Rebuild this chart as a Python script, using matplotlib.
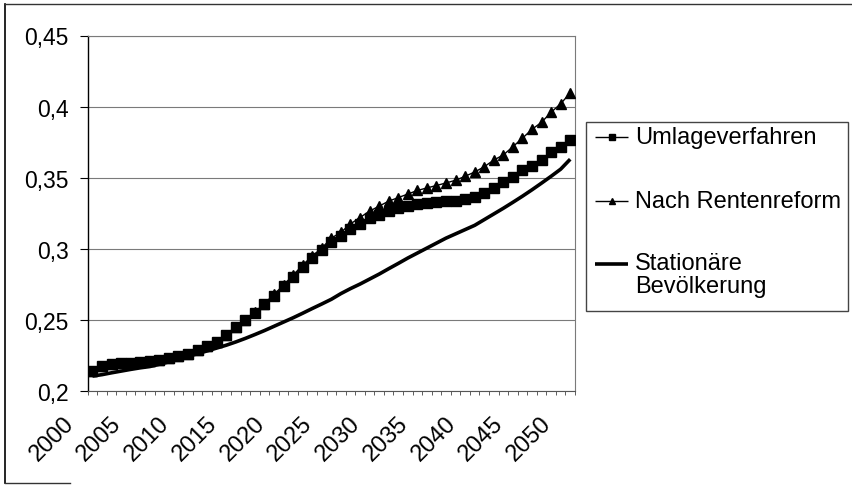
import matplotlib
matplotlib.use('Agg')
import matplotlib.pyplot as plt
from matplotlib.lines import Line2D
from matplotlib.patches import Rectangle
from matplotlib.transforms import ScaledTranslation
import numpy as np

years = list(range(2000, 2051))

umlage = [0.2142, 0.2178, 0.2188, 0.2195, 0.2200, 0.2205, 0.2210, 0.2220, 0.2232, 0.2245,
          0.2262, 0.2288, 0.2314, 0.2345, 0.2397, 0.2450, 0.2496, 0.2550, 0.2610, 0.2670,
          0.2735, 0.2805, 0.2875, 0.2935, 0.2990, 0.3045, 0.3093, 0.3140, 0.3175, 0.3215,
          0.3240, 0.3268, 0.3287, 0.3298, 0.3312, 0.3322, 0.3330, 0.3333, 0.3338, 0.3348,
          0.3365, 0.3392, 0.3427, 0.3470, 0.3505, 0.3553, 0.3584, 0.3624, 0.3678, 0.3718,
          0.3765]

reform = [0.2142, 0.2178, 0.2188, 0.2195, 0.2200, 0.2205, 0.2210, 0.2220, 0.2232, 0.2245,
          0.2262, 0.2288, 0.2314, 0.2345, 0.2397, 0.2452, 0.2500, 0.2555, 0.2615, 0.2680,
          0.2745, 0.2815, 0.2885, 0.2950, 0.3005, 0.3075, 0.3116, 0.3175, 0.3220, 0.3265,
          0.3300, 0.3335, 0.3360, 0.3385, 0.3410, 0.3428, 0.3445, 0.3463, 0.3482, 0.3510,
          0.3540, 0.3577, 0.3624, 0.3660, 0.3718, 0.3778, 0.3840, 0.3890, 0.3960, 0.4020,
          0.4096]

stationaer = [0.2105, 0.2115, 0.2128, 0.2140, 0.2152, 0.2163, 0.2172, 0.2188, 0.2205, 0.2225,
              0.2245, 0.2262, 0.2282, 0.2302, 0.2322, 0.2345, 0.2370, 0.2397, 0.2425, 0.2455,
              0.2485, 0.2515, 0.2547, 0.2580, 0.2612, 0.2645, 0.2685, 0.2720, 0.2752, 0.2787,
              0.2822, 0.2860, 0.2897, 0.2935, 0.2970, 0.3005, 0.3040, 0.3075, 0.3105, 0.3135,
              0.3165, 0.3205, 0.3245, 0.3285, 0.3327, 0.3370, 0.3415, 0.3462, 0.3510, 0.3560,
              0.3630]

series_names = ['Umlageverfahren', 'Nach Rentenreform', 'Stationäre\nBevölkerung']
yticks = [0.2, 0.25, 0.3, 0.35, 0.4, 0.45]
ytick_labels = ['0,2', '0,25', '0,3', '0,35', '0,4', '0,45']
xtick_labels = ['2000', '2005', '2010', '2015', '2020', '2025', '2030', '2035', '2040', '2045', '2050']

plt.rcParams['font.family'] = ['Liberation Sans', 'DejaVu Sans']

W, H = 852, 489
fig = plt.figure(figsize=(W / 100, H / 100), dpi=100)
fig.patch.set_facecolor('white')

def fx(px):
    return px / W

def fy(py):
    return 1 - py / H

left, right, top, bottom = 87.7, 575, 36.5, 392
ax = fig.add_axes([fx(left), fy(bottom), (right - left) / W, (bottom - top) / H])

x = np.arange(len(years))
ax.plot(x, umlage, color='black', lw=1, marker='s', ms=6.5, zorder=3)
ax.plot(x, reform, color='black', lw=1, marker='^', ms=7, zorder=4)
ax.plot(x, stationaer, color='black', lw=2.6, solid_capstyle='butt', zorder=5)

ax.set_xlim(-0.5, len(years) - 0.5)
ax.set_ylim(0.2, 0.45)
ax.set_yticks(yticks)
ax.set_yticklabels(ytick_labels, fontsize=16.5)
ax.yaxis.grid(True, color='#7a7a7a', lw=0.8)
ax.set_axisbelow(True)
ax.tick_params(axis='y', length=5.5, width=0.8, pad=8, direction='out')

# category-boundary tick marks
ax.set_xticks(np.arange(-0.5, len(years)))
ax.set_xticklabels([])
ax.tick_params(axis='x', which='major', length=3, width=0.6, direction='out', color='#444444')

# rotated year labels under their categories
offset = ScaledTranslation(-30 / 100, -21 / 100, fig.dpi_scale_trans)
lab_trans = ax.get_xaxis_transform() + offset
for lab in xtick_labels:
    ax.text(years.index(int(lab)), 0, lab, transform=lab_trans, fontsize=17, rotation=45,
            rotation_mode='anchor', ha='right', va='top', clip_on=False)

ax.spines['left'].set_color('black')
ax.spines['left'].set_linewidth(1)
ax.spines['bottom'].set_color('#555555')
ax.spines['bottom'].set_linewidth(0.8)
ax.spines['top'].set_color('#7a7a7a')
ax.spines['top'].set_linewidth(0.8)
ax.spines['right'].set_color('#7a7a7a')
ax.spines['right'].set_linewidth(0.8)

# Legend (manual, to match layout)
fig.add_artist(Rectangle((fx(586), fy(312)), (848 - 586) / W, (312 - 123) / H,
                         transform=fig.transFigure, fill=False, edgecolor='#444444', lw=1))
leg_y = [138, 202, 265]
markers = ['s', '^', None]
msizes = [4, 5, 0]
lws = [1, 1, 2.6]
for name, yy, mk, msz, lw in zip(series_names, leg_y, markers, msizes, lws):
    fig.add_artist(Line2D([fx(595), fx(628)], [fy(yy), fy(yy)], color='black',
                          transform=fig.transFigure, lw=lw, solid_capstyle='butt'))
    if mk:
        fig.add_artist(Line2D([fx(611.5)], [fy(yy)], color='black', marker=mk,
                              ms=msz, lw=0, transform=fig.transFigure))
    if '\n' in name:
        fig.text(fx(635), fy(yy - 12), name, fontsize=17, ha='left', va='top',
                 linespacing=1.05, transform=fig.transFigure)
    else:
        fig.text(fx(635), fy(yy), name, fontsize=17, ha='left', va='center',
                 transform=fig.transFigure)

# Outer chart border (partial, as in scan)
fig.add_artist(Line2D([fx(5), fx(5)], [fy(5), fy(484)], color='black', lw=1.2, transform=fig.transFigure))
fig.add_artist(Line2D([fx(5), fx(852)], [fy(5), fy(5)], color='#333333', lw=1, transform=fig.transFigure))
fig.add_artist(Line2D([fx(5), fx(70)], [fy(484), fy(484)], color='#333333', lw=1, transform=fig.transFigure))

fig.savefig('out.png', dpi=100)
